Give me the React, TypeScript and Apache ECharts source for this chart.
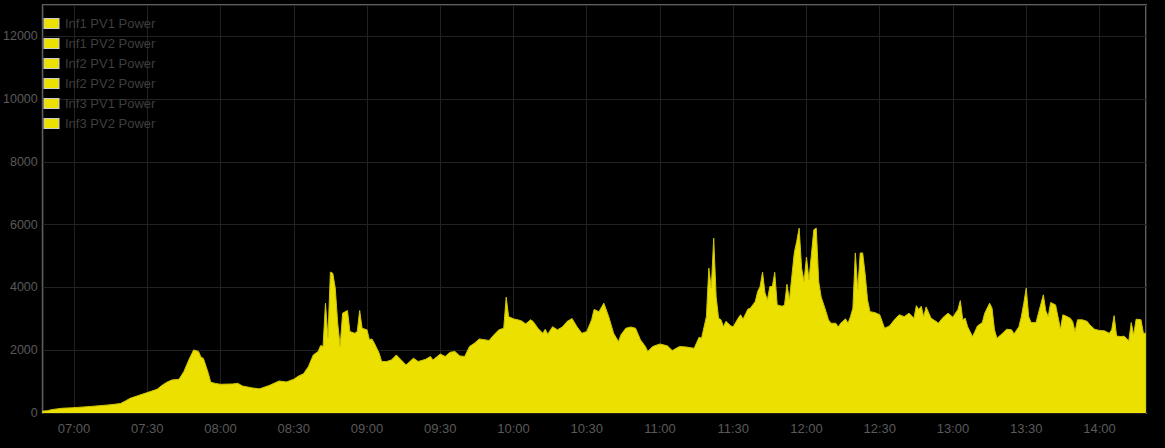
import React, { useEffect, useRef } from "react";
import * as echarts from "echarts";

const seriesNames = [
  "Inf1 PV1 Power",
  "Inf1 PV2 Power",
  "Inf2 PV1 Power",
  "Inf2 PV2 Power",
  "Inf3 PV1 Power",
  "Inf3 PV2 Power",
];

// sample times (clock) of the stacked total
const sampleTimes = [
  "06:47", "06:49", "06:51", "06:53", "06:55", "07:00", "07:07", "07:14", "07:19", "07:21",
  "07:23", "07:27", "07:30", "07:34", "07:36", "07:38", "07:40", "07:43", "07:45", "07:47",
  "07:49", "07:51", "07:52", "07:53", "07:55", "07:56", "07:58", "08:00", "08:05", "08:07",
  "08:09", "08:13", "08:16", "08:20", "08:24", "08:27", "08:30", "08:32", "08:34", "08:36",
  "08:38", "08:40", "08:41", "08:42", "08:43", "08:44", "08:45", "08:46", "08:47", "08:48",
  "08:49", "08:50", "08:52", "08:53", "08:55", "08:56", "08:57", "08:58", "09:00", "09:01",
  "09:02", "09:03", "09:05", "09:06", "09:08", "09:10", "09:12", "09:14", "09:16", "09:19",
  "09:21", "09:24", "09:26", "09:27", "09:30", "09:32", "09:34", "09:36", "09:38", "09:40",
  "09:42", "09:44", "09:46", "09:50", "09:52", "09:54", "09:56", "09:57", "09:58", "10:00",
  "10:03", "10:05", "10:07", "10:08", "10:10", "10:12", "10:13", "10:14", "10:16", "10:18",
  "10:20", "10:22", "10:24", "10:26", "10:28", "10:30", "10:32", "10:33", "10:35", "10:37",
  "10:39", "10:41", "10:43", "10:44", "10:46", "10:48", "10:50", "10:52", "10:54", "10:55",
  "10:57", "11:00", "11:03", "11:05", "11:08", "11:11", "11:14", "11:16", "11:17", "11:19",
  "11:20", "11:21", "11:22", "11:23", "11:24", "11:25", "11:26", "11:27", "11:29", "11:30",
  "11:32", "11:33", "11:34", "11:36", "11:37", "11:39", "11:40", "11:41", "11:42", "11:43",
  "11:44", "11:45", "11:46", "11:47", "11:48", "11:50", "11:51", "11:52", "11:53", "11:55",
  "11:56", "11:57", "11:58", "11:59", "12:00", "12:01", "12:03", "12:04", "12:05", "12:06",
  "12:08", "12:09", "12:10", "12:12", "12:13", "12:14", "12:16", "12:17", "12:18", "12:19",
  "12:20", "12:21", "12:22", "12:23", "12:24", "12:25", "12:26", "12:28", "12:30", "12:32",
  "12:34", "12:36", "12:38", "12:40", "12:42", "12:44", "12:45", "12:46", "12:47", "12:48",
  "12:49", "12:51", "12:53", "12:54", "12:56", "12:58", "13:00", "13:01", "13:02", "13:03",
  "13:04", "13:05", "13:06", "13:08", "13:09", "13:10", "13:12", "13:13", "13:15", "13:16",
  "13:17", "13:18", "13:20", "13:22", "13:24", "13:25", "13:27", "13:28", "13:29", "13:30",
  "13:31", "13:32", "13:34", "13:35", "13:37", "13:38", "13:39", "13:40", "13:42", "13:43",
  "13:44", "13:45", "13:46", "13:48", "13:49", "13:50", "13:51", "13:53", "13:55", "13:56",
  "13:58", "14:00", "14:02", "14:04", "14:05", "14:06", "14:07", "14:09", "14:10", "14:12",
  "14:13", "14:14", "14:15", "14:17", "14:18", "14:19",
];

// total PV power (W) at each sample time
const totalPower = [
  60, 70, 110, 130, 150, 170, 210, 255, 300, 380,
  468, 574, 650, 755, 880, 980, 1050, 1075, 1320, 1690,
  2010, 1960, 1780, 1740, 1266, 980, 940, 915, 925, 947,
  860, 800, 770, 880, 1020, 990, 1075, 1180, 1250, 1480,
  1850, 1960, 2150, 2120, 3500, 2400, 4490, 4450, 3980, 2860,
  2120, 3180, 3265, 2595, 2540, 2595, 3265, 2700, 2650, 2330,
  2360, 2225, 1900, 1640, 1640, 1690, 1850, 1690, 1530, 1745,
  1640, 1710, 1800, 1690, 1880, 1800, 1935, 1960, 1820, 1800,
  2120, 2225, 2360, 2310, 2490, 2650, 2700, 3690, 3070, 3000,
  2945, 2840, 2970, 2920, 2700, 2540, 2670, 2510, 2750, 2650,
  2740, 2920, 3010, 2750, 2540, 2595, 2970, 3300, 3230, 3500,
  3070, 2540, 2275, 2490, 2700, 2740, 2700, 2330, 2120, 1960,
  2120, 2200, 2140, 1990, 2120, 2100, 2060, 2415, 2380, 3070,
  4615, 3980, 5570, 3700, 3020, 2970, 2750, 2920, 2775, 2750,
  3020, 3130, 2990, 3310, 3340, 3550, 3870, 4030, 4490, 3830,
  3605, 4030, 4030, 4480, 3445, 3400, 3445, 4100, 3605, 5100,
  5470, 5890, 4615, 4190, 4970, 4240, 5840, 5890, 4190, 3700,
  3230, 2970, 2860, 2860, 2740, 2860, 3000, 2860, 3070, 3340,
  5100, 3935, 5100, 5100, 4446, 3605, 3230, 3200, 3130, 2700,
  2775, 2970, 3130, 3070, 3180, 3020, 3420, 3300, 3400, 3070,
  3380, 3020, 2920, 2860, 3050, 3180, 3050, 3180, 3290, 3580,
  2970, 3020, 2750, 2435, 2595, 2775, 2880, 3180, 3500, 3340,
  2650, 2380, 2520, 2670, 2650, 2520, 2750, 3070, 3500, 3977,
  3070, 2880, 2880, 3180, 3765, 3260, 3073, 3520, 3445, 3073,
  2670, 3127, 3100, 3020, 2918, 2595, 2970, 2970, 2918, 2810,
  2670, 2630, 2620, 2540, 2650, 3100, 2450, 2435, 2450, 2300,
  2880, 2490, 2990, 2970, 2540, 2540,
];

const axisStart = "06:47:12";
const axisEnd = "14:19:03";

const YELLOW = "#ebe000";
const FONT = "'Liberation Sans', Arial, sans-serif";

const swatchSvg =
  '<svg xmlns="http://www.w3.org/2000/svg" width="17" height="12" viewBox="0 0 17 12">' +
  '<rect x="0.5" y="0.5" width="16" height="11" fill="#cccccc"/>' +
  '<rect x="1.5" y="1.5" width="14" height="9" fill="#ebe000"/></svg>';
const swatchIcon = "image://data:image/svg+xml;charset=utf-8," + encodeURIComponent(swatchSvg);

function toTs(clock: string): number {
  const p = clock.split(":").map(Number);
  return new Date(2024, 5, 1, p[0], p[1], p[2] || 0).getTime();
}

function pad(n: number) {
  return n < 10 ? "0" + n : "" + n;
}

export default function App() {
  const ref = useRef<HTMLDivElement>(null);

  useEffect(() => {
    if (!ref.current) return;
    const chart = echarts.init(ref.current, undefined, { renderer: "svg" });
    const data = sampleTimes.map((t, i) => [toTs(t), totalPower[i]]);

    const series: any[] = seriesNames.map((name, i) => ({
      name,
      type: "line",
      stack: "pv",
      data: i === 0 ? data : [],
      showSymbol: false,
      symbol: "none",
      color: YELLOW,
      lineStyle: { color: "#cfc400", width: 1 },
      areaStyle: { color: YELLOW, opacity: 1 },
      emphasis: { disabled: true },
    }));

    chart.setOption({
      animation: false,
      backgroundColor: "#000000",
      textStyle: { fontFamily: FONT },
      legend: {
        data: seriesNames,
        orient: "vertical",
        top: 17,
        left: 43,
        itemGap: 7,
        itemWidth: 17,
        itemHeight: 12,
        icon: swatchIcon,
        padding: 0,
        selectedMode: false,
        textStyle: { color: "#3e3e3e", fontSize: 13, fontFamily: FONT },
      },
      grid: {
        left: 42,
        right: 19,
        top: 5,
        bottom: 35,
        show: true,
        borderColor: "#5e5e5e",
        borderWidth: 2,
        backgroundColor: "transparent",
        containLabel: false,
      },
      xAxis: {
        type: "time",
        min: toTs(axisStart),
        max: toTs(axisEnd),
        splitNumber: 14,
        axisLine: { show: false },
        axisTick: { show: false },
        splitLine: { show: true, lineStyle: { color: "#222222", width: 1 } },
        axisLabel: {
          color: "#5a5a5a",
          fontSize: 13,
          fontFamily: FONT,
          margin: 9,
          showMinLabel: false,
          showMaxLabel: false,
          formatter: (v: number) => {
            const d = new Date(v);
            return pad(d.getHours()) + ":" + pad(d.getMinutes());
          },
        },
      },
      yAxis: {
        type: "value",
        min: 0,
        max: 13000,
        interval: 2000,
        axisLine: { show: false },
        axisTick: { show: false },
        splitLine: { show: true, lineStyle: { color: "#222222", width: 1 } },
        axisLabel: {
          color: "#5a5a5a",
          fontSize: 12.5,
          fontFamily: FONT,
          margin: 5,
          showMaxLabel: false,
          formatter: (v: number) => String(v),
        },
      },
      series,
    });

    return () => chart.dispose();
  }, []);

  return (
    <div
      ref={ref}
      style={{ position: "fixed", left: 0, top: 0, width: 1165, height: 448, background: "#000" }}
    />
  );
}
